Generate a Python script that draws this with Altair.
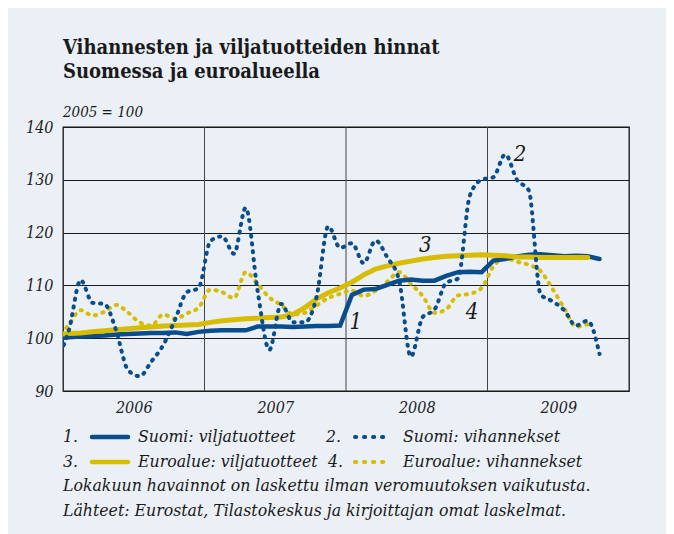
import altair as alt
import pandas as pd

# ---------------- data ----------------
months_fi = [str(p) for p in pd.period_range("2005-12", "2009-10", freq="M")]
months_eu = [str(p) for p in pd.period_range("2005-12", "2009-09", freq="M")]

fi_cereal = [100.0,
             100.2, 100.3, 100.4, 100.5, 100.7, 100.8, 100.9, 101.0, 101.0, 101.1, 100.8, 101.2,
             101.4, 101.5, 101.5, 101.5, 102.2, 102.2, 102.2, 102.1, 102.2, 102.3, 102.3, 102.4,
             108.2, 109.2, 109.3, 110.1, 110.9, 111.1, 110.9, 110.9, 111.8, 112.5, 112.6, 112.5,
             114.7, 115.0, 115.5, 115.8, 115.9, 115.7, 115.5, 115.6, 115.5, 115.0]

fi_veg = [96.0,
          101.5, 111.0, 106.7, 106.5, 101.5, 94.0, 92.8, 95.6, 98.7, 103.5, 108.7, 109.5,
          118.4, 119.3, 116.0, 124.7, 109.0, 97.8, 106.5, 103.0, 103.0, 107.8, 121.2, 117.1,
          118.0, 114.2, 118.5, 115.3, 111.0, 96.5, 104.0, 105.4, 110.5, 111.3, 127.0, 130.0,
          130.5, 134.8, 130.0, 128.0, 108.3, 107.0, 105.3, 102.4, 103.3, 97.0]

eu_cereal = [100.7,
             100.9, 101.0, 101.2, 101.4, 101.6, 101.8, 102.0, 102.1, 102.3, 102.4, 102.5, 102.6,
             103.0, 103.3, 103.5, 103.7, 103.8, 103.9, 104.0, 104.5, 105.8, 107.4, 108.6, 109.5,
             110.6, 112.0, 113.1, 113.7, 114.2, 114.6, 115.0, 115.3, 115.5, 115.6, 115.7, 115.8,
             115.7, 115.6, 115.4, 115.4, 115.3, 115.3, 115.3, 115.3, 115.3]

eu_veg = [99.5,
          102.6, 105.3, 104.3, 105.0, 106.3, 104.9, 103.0, 102.4, 104.5, 103.7, 104.7, 105.8,
          109.2, 108.7, 107.6, 112.5, 110.3, 107.7, 106.3, 104.5, 104.8, 106.2, 107.6, 108.4,
          109.0, 108.0, 109.0, 110.7, 112.5, 110.3, 108.0, 104.8, 105.5, 108.1, 108.4, 109.5,
          113.6, 115.1, 114.5, 113.9, 112.7, 109.4, 105.7, 102.2, 102.6]

series_names = ["Suomi: viljatuotteet", "Suomi: vihannekset",
                "Euroalue: viljatuotteet", "Euroalue: vihannekset"]
years = [2006, 2007, 2008, 2009]

label_text = ["1", "2", "3", "4"]
label_t = [2008.07, 2009.23, 2008.56, 2008.89]
label_v = [103.0, 134.8, 117.7, 105.0]

notes = ["Lokakuun havainnot on laskettu ilman veromuutoksen vaikutusta.",
         "Lähteet: Eurostat, Tilastokeskus ja kirjoittajan omat laskelmat."]
title_lines = ["Vihannesten ja viljatuotteiden hinnat", "Suomessa ja euroalueella"]

BLUE = "#0a4d8c"
YELLOW = "#d7bc00"
BG = "#ebf0f7"
FONT = "DejaVu Serif Condensed"
W, H = 566, 264


def frame(months, vals):
    per = pd.PeriodIndex(months, freq="M")
    return pd.DataFrame({"t": per.year + (per.month - 0.5) / 12.0, "v": vals})


xs = alt.X("t:Q", scale=alt.Scale(domain=[2006, 2010], nice=False, zero=False),
           axis=alt.Axis(values=[y + 0.5 for y in years], labelExpr="floor(datum.value)",
                         title=None, grid=False, ticks=False, domain=False,
                         labelFont=FONT, labelFontStyle="italic", labelFontSize=16,
                         labelColor="#222", labelPadding=8))
ys = alt.Y("v:Q", scale=alt.Scale(domain=[90, 140], nice=False, zero=False),
           axis=alt.Axis(values=[90, 100, 110, 120, 130, 140], title=None, ticks=False,
                         domain=False, grid=True, gridColor="#1a1a1a", gridWidth=1,
                         labelFont=FONT, labelFontStyle="italic", labelFontSize=16,
                         labelColor="#222", labelPadding=10))


def line(df, color, dotted, width):
    kw = dict(color=color, strokeWidth=width, clip=True, strokeCap="round",
              interpolate="monotone" if dotted else "linear")
    if dotted:
        kw["strokeDash"] = [1.2, 6.6]
    return alt.Chart(df).mark_line(**kw).encode(x=xs, y=ys)


one = pd.DataFrame({"k": [0]})


def txt(s, x, y, size=17.5, style="italic", weight="normal", baseline="middle", font=FONT):
    return alt.Chart(one).mark_text(text=s, align="left", baseline=baseline, font=font,
                                    fontSize=size, fontStyle=style, fontWeight=weight,
                                    color="#1a1a1a").encode(x=alt.value(x), y=alt.value(y))


def sample(x1, x2, y, color, dotted):
    kw = dict(color=color, strokeWidth=4.5, strokeCap="round")
    if dotted:
        kw["strokeDash"] = [1.2, 7.8]
        kw["strokeWidth"] = 4
    return alt.Chart(one).mark_rule(**kw).encode(x=alt.value(x1), x2=alt.value(x2), y=alt.value(y))


vgrid = alt.Chart(pd.DataFrame({"t": years[1:]})).mark_rule(color="#444", strokeWidth=1).encode(x=xs)

fi_c = line(frame(months_fi, fi_cereal), BLUE, False, 4.5)
fi_v = line(frame(months_fi, fi_veg), BLUE, True, 4)
eu_c = line(frame(months_eu, eu_cereal), YELLOW, False, 5)
eu_v = line(frame(months_eu, eu_veg), YELLOW, True, 4)

nums = alt.Chart(pd.DataFrame({"t": label_t, "v": label_v, "s": label_text})).mark_text(
    font=FONT, fontStyle="italic", fontSize=22, color="#1a1a1a").encode(x=xs, y=ys, text="s:N")

r1, r2 = 310, 335
texts = [
    txt(title_lines[0], 0, -73, size=20, style="normal", weight="bold", baseline="alphabetic"),
    txt(title_lines[1], 0, -49, size=20, style="normal", weight="bold", baseline="alphabetic"),
    txt("2005 = 100", 0, -10, size=15, baseline="alphabetic"),
    txt("1.", 0, r1), sample(29, 65, r1, BLUE, False), txt(series_names[0], 75, r1),
    txt("2.", 263, r1), sample(292, 326, r1, BLUE, True), txt(series_names[1], 340, r1),
    txt("3.", 0, r2), sample(29, 65, r2, YELLOW, False), txt(series_names[2], 75, r2),
    txt("4.", 265, r2), sample(292, 326, r2, YELLOW, True), txt(series_names[3], 340, r2),
    txt(notes[0], 0, 359), txt(notes[1], 0, 384),
]

chart = alt.layer(vgrid, eu_v, fi_c, eu_c, fi_v, nums, *texts).properties(
    width=W, height=H,
    autosize=alt.AutoSizeParams(type="none"),
    padding={"left": 55, "top": 119, "right": 37, "bottom": 143},
    background=BG,
).configure_view(stroke="#111", strokeWidth=1.3)

chart.save("out.html", embed_options={"renderer": "svg", "actions": False})
